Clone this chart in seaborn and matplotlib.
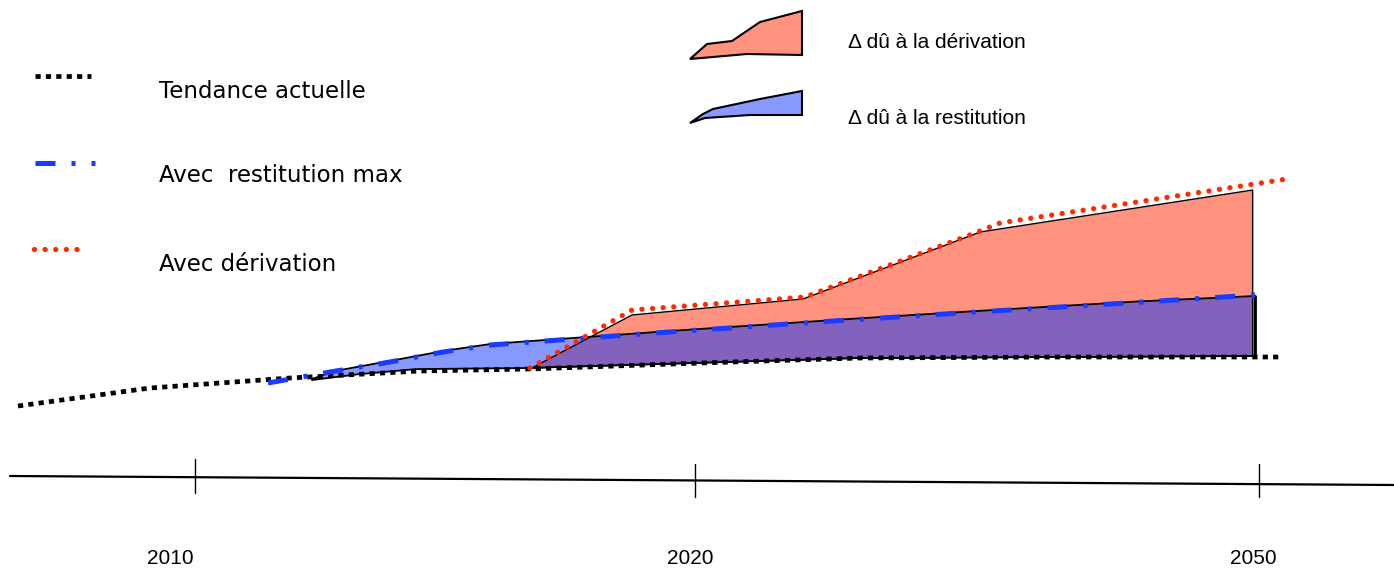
import numpy as np
import seaborn as sns
import matplotlib.pyplot as plt

# schematic chart, coordinates (x to the right, y downwards)
tendance_x = [18, 150, 290, 420, 530, 700, 860, 1060, 1283]
tendance_y = [406, 388, 378, 371, 369, 363, 358, 357, 357]

restitution_x = [268, 330, 390, 443, 490, 545, 655, 833, 960, 1127, 1255]
restitution_y = [383, 372, 362, 352, 345, 341, 333, 321, 313, 303, 295]

derivation_x = [530, 632, 805, 975, 1000, 1287]
derivation_y = [368, 310, 297, 233, 223, 179]

# zones (deltas)
base_x = [312, 360, 417, 530, 860, 1255]
base_y = [380, 374, 369, 368, 358, 356]
zone_restit_x = [312, 335, 390, 443, 490, 545, 655, 833, 960, 1127, 1255]
zone_restit_y = [379, 371, 361, 351, 344, 340, 332, 320, 312, 302, 296]
zone_deriv_x = [530, 632, 803, 980, 1253]
zone_deriv_y = [369, 315, 299, 232, 190]

# legend icons
icone_deriv_x = [690, 707, 732, 760, 802, 802, 747, 690]
icone_deriv_y = [59, 44, 41, 22, 11, 55, 54, 59]
icone_restit_x = [690, 703, 713, 760, 802, 802, 750, 705, 690]
icone_restit_y = [123, 114, 109, 99, 91, 115, 115, 118, 123]

ticks_x = [195, 695, 1259]
ticks_labels = ["2010", "2020", "2050"]

salmon = "#ff937f"
light_blue = "#8799ff"
purple = "#8262bd"
blue = "#1a3cff"
red = "#ff2a00"

sns.set_style("white")
plt.rcParams["text.color"] = "black"
fig = plt.figure(figsize=(13.94, 5.68), dpi=100)
ax = fig.add_axes([0, 0, 1, 1])

# filled zones
xs = np.linspace(base_x[0], base_x[-1], 2000)
y_base = np.interp(xs, base_x, base_y)
y_bl = np.interp(xs, zone_restit_x, zone_restit_y)
y_rd = np.interp(xs, zone_deriv_x, zone_deriv_y)
m = (xs >= zone_deriv_x[0]) & (xs <= zone_deriv_x[-1])
ax.fill_between(xs, y_base, y_bl, color=light_blue, lw=0)
ax.fill_between(xs, y_base, y_rd, where=m, color=salmon, lw=0)
ax.fill_between(xs, y_base, np.maximum(y_bl, y_rd), where=m, color=purple, lw=0)

# outlines
ax.plot(np.r_[xs, xs[::-1]], np.r_[y_bl, y_base[::-1]], color="black", lw=1.3)
ax.plot(np.r_[xs[m], xs[m][::-1]], np.r_[y_rd[m], y_base[m][::-1]], color="black", lw=1.0)
ax.plot([xs[-1], xs[-1]], [y_bl[-1], y_base[-1]], color="black", lw=2)

dots_black = (0, (1.1, 1.1))
dash_dot = (0, (4, 3.2, 0.8, 3.2))
dots_red = (0, (0.01, 2.0))

# series lines
sns.lineplot(x=tendance_x, y=tendance_y, ax=ax, color="black", lw=3.4,
             linestyle=dots_black, estimator=None, sort=False)
sns.lineplot(x=restitution_x, y=restitution_y, ax=ax, color=blue, lw=3.6,
             linestyle=dash_dot, estimator=None, sort=False)
sns.lineplot(x=derivation_x, y=derivation_y, ax=ax, color=red, lw=3.8,
             linestyle=dots_red, dash_capstyle="round",
             estimator=None, sort=False)

# time axis
ax.plot([10, 1394], [476, 485], color="black", lw=1.6)
for tx, lab, lo, hi, lx in zip(ticks_x, ticks_labels, [459, 464, 464],
                               [493, 497, 497], [170, 690, 1253]):
    ax.plot([tx, tx], [lo, hi], color="black", lw=1)
    ax.text(lx, 559, lab, ha="center", va="center", fontsize=15,
            family="Liberation Sans", color="black")

# left legend
ax.plot([35, 91], [76, 76], color="black", lw=3.4, linestyle=dots_black)
ax.plot([35, 95], [163, 163], color=blue, lw=3.6, linestyle=dash_dot)
ax.plot([34, 80], [249, 249], color=red, lw=3.8, linestyle=dots_red,
        dash_capstyle="round")
for ty, txt in zip([98, 182, 271],
                   ["Tendance actuelle", "Avec  restitution max", "Avec dérivation"]):
    ax.text(159, ty, txt, fontsize=16.5, va="baseline", ha="left", color="black")

# right legend
ax.fill(icone_deriv_x, icone_deriv_y, facecolor=salmon, edgecolor="black", lw=1.5)
ax.fill(icone_restit_x, icone_restit_y, facecolor=light_blue, edgecolor="black", lw=1.5)
ax.text(848, 48, "Δ dû à la dérivation", fontsize=15, va="baseline",
        family="Liberation Sans", color="black")
ax.text(848, 124, "Δ dû à la restitution", fontsize=15, va="baseline",
        family="Liberation Sans", color="black")

ax.set_xlim(0, 1394)
ax.set_ylim(568, 0)
ax.axis("off")
fig.savefig("out.png", dpi=100)
